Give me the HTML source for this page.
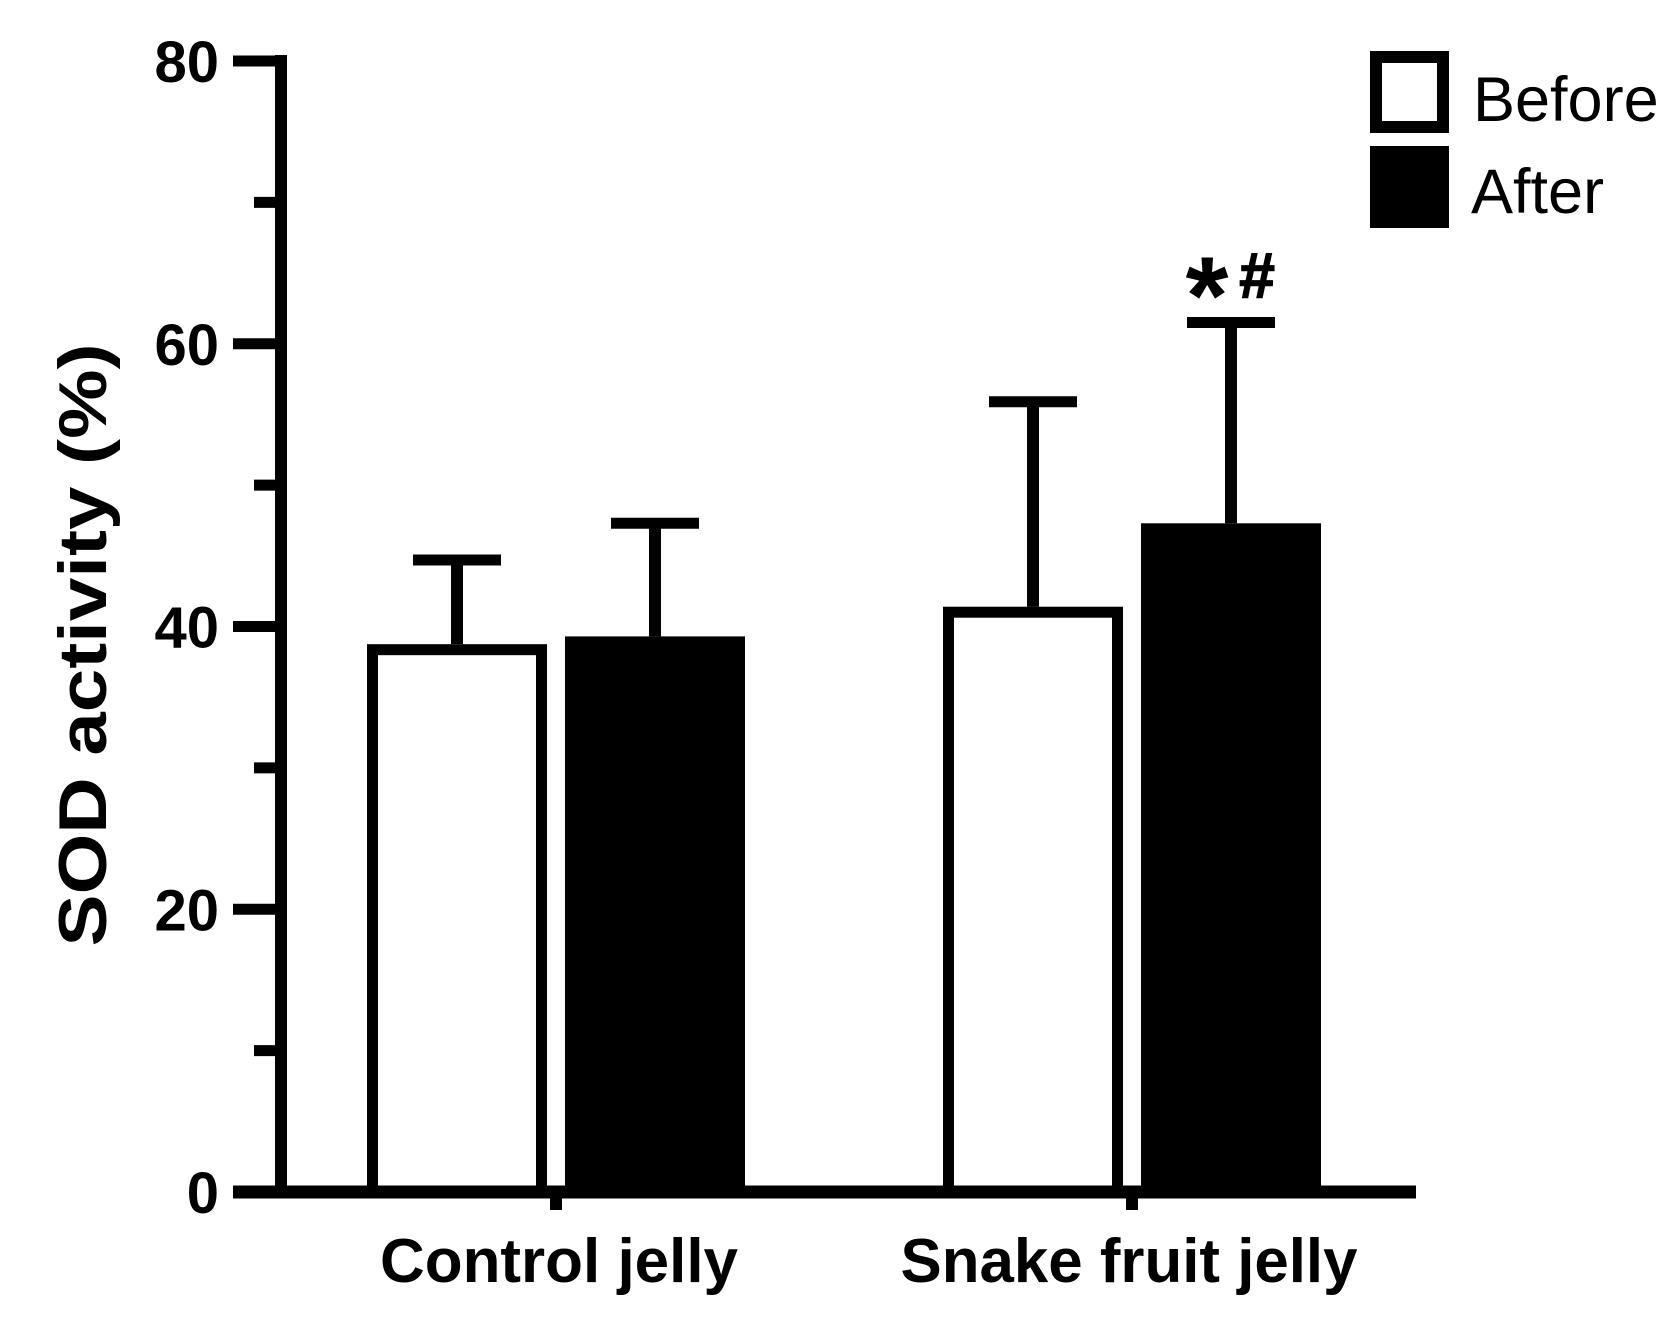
<!DOCTYPE html>
<html><head><meta charset="utf-8"><style>html,body{margin:0;padding:0;background:#fff}svg{display:block}text{font-family:"Liberation Sans",Arial,sans-serif;fill:#000}</style></head>
<body>
<svg id="chart" width="1678" height="1328" viewBox="0 0 1678 1328" xmlns="http://www.w3.org/2000/svg"></svg>
<script>
const categories = ["Control jelly", "Snake fruit jelly"];
const seriesNames = ["Before", "After"];
const beforeValues = [38.75, 41.4];
const afterValues = [39.3, 47.3];
const beforeErrors = [5.95, 14.5];
const afterErrors = [8.0, 14.2];
const yTicks = [0, 20, 40, 60, 80];
const yMinorTicks = [10, 30, 50, 70];
const annotations = ["", "*#"];

const NS = "http://www.w3.org/2000/svg";
const svg = document.getElementById("chart");
const Y0 = 1192, YTOP = 61, YMAX = 80;
function y(v){ return Y0 - (Y0 - YTOP) * v / YMAX; }
const groupCenters = [556, 1132];
const barW = 180, gap = 18;
function barX(ci, si){ return groupCenters[ci] + (si === 0 ? -(barW + gap/2) : gap/2); }
function mk(tag, attrs){ const e = document.createElementNS(NS, tag); for (const k in attrs) e.setAttribute(k, attrs[k]); svg.appendChild(e); return e; }

const series = [beforeValues, afterValues];
const errs = [beforeErrors, afterErrors];
for (let ci = 0; ci < categories.length; ci++) {
  for (let si = 0; si < 2; si++) {
    const v = series[si][ci], x = barX(ci, si), top = y(v);
    const cx = x + barW/2;
    const eTop = y(v + errs[si][ci]);
    const el = mk("line", {x1: cx, y1: top, x2: cx, y2: eTop, stroke: "#000", "stroke-width": 12});
    
    
    const cap = mk("line", {x1: cx - 44, y1: eTop, x2: cx + 44, y2: eTop, stroke: "#000", "stroke-width": 11});
    
    
    let r;
    if (si === 0) {
      r = mk("rect", {x: x + 5.5, y: top + 5.5, width: barW - 11, height: Y0 - top - 5.5, fill: "#fff", stroke: "#000", "stroke-width": 11});
    } else {
      r = mk("rect", {x: x, y: top, width: barW, height: Y0 - top, fill: "#000"});
    }
    
    
    if (si === 1 && annotations[ci]) {
      const chars = annotations[ci].split("");
      chars.forEach((c, k) => {
        const big = c === "*";
        const t = mk("text", {x: big ? cx - 24 : cx + 26, y: big ? eTop + 11 : eTop - 25, "text-anchor": "middle", "font-size": big ? 110 : 64, "font-weight": "bold", stroke: big ? "none" : "#000", "stroke-width": big ? 0 : 1.5});
        t.textContent = c;
        
        
      });
    }
  }
}

const ya = mk("line", {x1: 281, y1: 55, x2: 281, y2: 1198, stroke: "#000", "stroke-width": 12});


const xa = mk("line", {x1: 233, y1: Y0, x2: 1416, y2: Y0, stroke: "#000", "stroke-width": 13});


for (const t of yTicks) {
  const l = mk("line", {x1: 233, y1: y(t), x2: 287, y2: y(t), stroke: "#000", "stroke-width": 11});
  
  
  const tx = mk("text", {x: 219, y: y(t) + 21, "text-anchor": "end", "font-size": 58, "font-weight": "bold"});
  tx.textContent = t;
  
  
}
for (const t of yMinorTicks) {
  const l = mk("line", {x1: 254, y1: y(t), x2: 287, y2: y(t), stroke: "#000", "stroke-width": 11});
  
  
}
const xLabelCenters = [559, 1129];
const xLabelWidths = [358, 457];
for (let ci = 0; ci < categories.length; ci++) {
  const xt = (barX(ci,0) + barX(ci,1) + barW) / 2;
  const l = mk("line", {x1: xt, y1: Y0, x2: xt, y2: 1210, stroke: "#000", "stroke-width": 12});
  
  
  const tx = mk("text", {x: xLabelCenters[ci], y: 1282, "text-anchor": "middle", "font-size": 62, "font-weight": "bold", textLength: xLabelWidths[ci], lengthAdjust: "spacingAndGlyphs"});
  tx.textContent = categories[ci];
  
  
}
const yt = mk("text", {x: 0, y: 0, transform: "translate(106,645) rotate(-90)", "text-anchor": "middle", "font-size": 68, "font-weight": "bold", textLength: 603, lengthAdjust: "spacingAndGlyphs"});
yt.textContent = "SOD activity (%)";



const lb = mk("rect", {x: 1376, y: 57, width: 67, height: 70, fill: "#fff", stroke: "#000", "stroke-width": 12});


const la = mk("rect", {x: 1370, y: 146, width: 79, height: 82, fill: "#000"});


const t1 = mk("text", {x: 1473, y: 121, "font-size": 63});
t1.textContent = seriesNames[0];


const t2 = mk("text", {x: 1471, y: 213, "font-size": 63});
t2.textContent = seriesNames[1];


</script>
</body></html>
